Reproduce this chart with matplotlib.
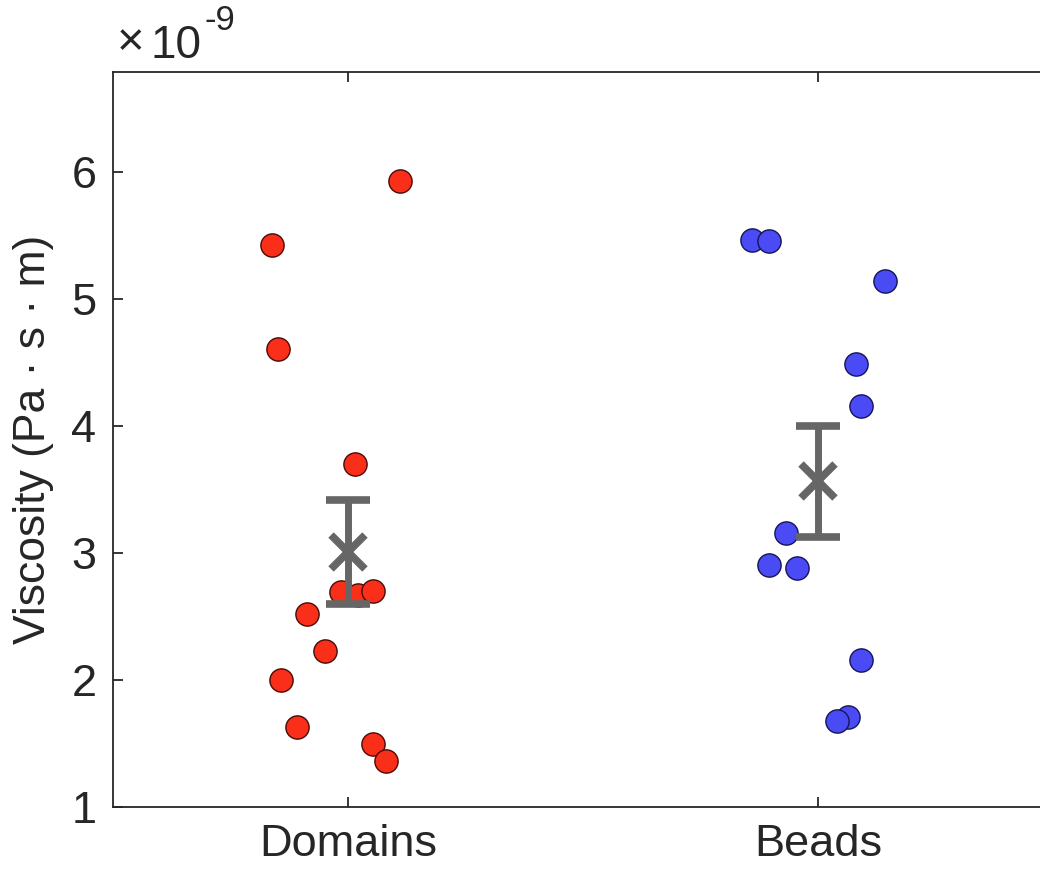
import matplotlib
matplotlib.use("Agg")
import matplotlib.pyplot as plt
import numpy as np

plt.rcParams['font.family'] = ['Liberation Sans', 'DejaVu Sans']

categories = ["Domains", "Beads"]
scale = 1e-9

# Domains (red) jittered x positions and values (x1e-9 Pa·s·m)
domains_x = [1.110, 0.839, 0.851, 1.015, 0.913, 0.985, 1.021, 1.053, 0.951, 0.858, 0.892, 1.053, 1.081]
domains_y = [5.93, 5.43, 4.61, 3.70, 2.52, 2.69, 2.67, 2.70, 2.23, 2.00, 1.63, 1.50, 1.36]

# Beads (blue)
beads_x = [1.860, 1.896, 2.142, 2.081, 2.091, 1.932, 1.896, 1.955, 2.091, 2.064, 2.040]
beads_y = [5.47, 5.46, 5.14, 4.49, 4.16, 3.16, 2.91, 2.88, 2.16, 1.71, 1.68]

# Mean and error bars
means = [3.01, 3.565]
errors = [0.41, 0.44]

fig = plt.figure(figsize=(10.4, 8.75), dpi=100)
ax = fig.add_axes([113/1040, 68/875, 940/1040, 735/875])

ax.scatter(np.array(domains_x), np.array(domains_y) * scale, s=280,
           facecolor='#fa2f1a', edgecolor='#4a0a05', linewidth=1.0, zorder=3)
ax.scatter(np.array(beads_x), np.array(beads_y) * scale, s=280,
           facecolor='#4b4bf5', edgecolor='#14145a', linewidth=1.0, zorder=3)

xpos = np.arange(1, len(categories) + 1)
ax.errorbar(xpos, np.array(means) * scale, yerr=np.array(errors) * scale,
            fmt='x', color='#666666', ecolor='#666666', elinewidth=5,
            capsize=16, capthick=5.5, markersize=24, markeredgewidth=5.5, zorder=4)

ax.set_xlim(0.5, 2.5)
ax.set_ylim(1e-9, 6.79e-9)
ax.set_xticks(xpos)
ax.set_xticklabels(categories)
yt = [1, 2, 3, 4, 5, 6]
ax.set_yticks(np.array(yt) * scale)
ax.set_yticklabels([str(v) for v in yt])

ax.tick_params(axis='both', which='both', direction='in', length=7, width=1.3,
               colors='#262626', labelsize=32.5, top=True, right=True, pad=12)
for sp in ax.spines.values():
    sp.set_color('#262626')
    sp.set_linewidth(1.3)

ax.set_ylabel('Viscosity (Pa · s · m)', fontsize=32, color='#262626')
ax.yaxis.set_label_coords(-0.063, 0.5)

ax.text(0.004, 1.010, '×', transform=ax.transAxes, fontsize=34, color='#262626',
        ha='left', va='bottom', fontweight='light')
ax.text(0.040, 1.005, '10', transform=ax.transAxes, fontsize=33, color='#262626',
        ha='left', va='bottom')
ax.text(0.097, 1.047, '-9', transform=ax.transAxes, fontsize=25, color='#262626',
        ha='left', va='bottom')

fig.savefig('out.png', dpi=100)
